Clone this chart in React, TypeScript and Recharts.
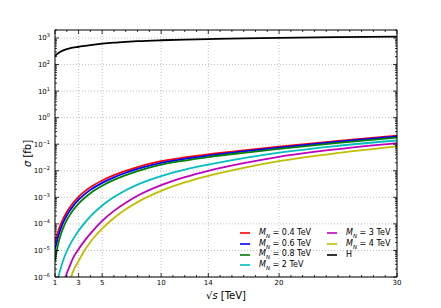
import { LineChart, Line, XAxis, YAxis, CartesianGrid, Legend, Label } from "recharts"

// sqrt(s) in TeV
const sqrtS = [1, 1.25, 1.5, 1.75, 2, 2.25, 2.5, 3, 3.5, 4, 5, 6, 7, 8, 10, 12, 14, 17, 20, 25, 30]

// sigma in fb (curves below 1e-6 run out of the frame)
const sigmaN04 = [1.95e-5, 4.9e-5, 1.0e-4, 1.76e-4, 2.82e-4, 4.17e-4, 5.89e-4, 1.05e-3, 1.64e-3, 2.4e-3, 4.32e-3, 6.84e-3, 1.0e-2, 1.38e-2, 2.29e-2, 3.16e-2, 4.17e-2, 5.89e-2, 8.13e-2, 0.133, 0.209]
const sigmaN06 = [1.1e-5, 3.16e-5, 6.92e-5, 1.26e-4, 2.07e-4, 3.11e-4, 4.47e-4, 8.13e-4, 1.29e-3, 1.91e-3, 3.51e-3, 5.66e-3, 8.41e-3, 1.18e-2, 2.0e-2, 2.81e-2, 3.74e-2, 5.35e-2, 7.46e-2, 0.124, 0.195]
const sigmaN08 = [3.98e-6, 1.62e-5, 4.07e-5, 8.04e-5, 1.38e-4, 2.14e-4, 3.13e-4, 5.82e-4, 9.44e-4, 1.43e-3, 2.72e-3, 4.52e-3, 6.84e-3, 9.77e-3, 1.7e-2, 2.43e-2, 3.27e-2, 4.75e-2, 6.71e-2, 0.113, 0.178]
const sigmaN2 = [5.01e-8, 7.41e-7, 2.21e-6, 4.95e-6, 9.33e-6, 1.58e-5, 2.51e-5, 5.5e-5, 1.07e-4, 1.91e-4, 4.9e-4, 1.02e-3, 1.86e-3, 3.02e-3, 6.31e-3, 1.1e-2, 1.7e-2, 2.99e-2, 4.79e-2, 8.71e-2, 0.138]
const sigmaN3 = [1e-10, 6.31e-9, 1e-7, 5.5e-7, 1.38e-6, 2.57e-6, 4.79e-6, 1.12e-5, 2.29e-5, 4.27e-5, 1.29e-4, 3.09e-4, 6.31e-4, 1.15e-3, 2.88e-3, 5.75e-3, 1.0e-2, 1.93e-2, 3.35e-2, 6.53e-2, 0.11]
const sigmaN4 = [1e-14, 1e-12, 1e-10, 1e-8, 1.58e-7, 6.31e-7, 1.51e-6, 3.98e-6, 1.0e-5, 2.09e-5, 6.61e-5, 1.66e-4, 3.55e-4, 6.61e-4, 1.74e-3, 3.63e-3, 6.46e-3, 1.29e-2, 2.29e-2, 4.68e-2, 8.32e-2]
const sigmaH = [209, 263, 309, 347, 380, 407, 432, 468, 507, 543, 610, 668, 716, 759, 822, 871, 912, 966, 1012, 1072, 1122]

const massLabels = ["0.4", "0.6", "0.8", "2", "3", "4"]

const xMajor = [1, 3, 5, 10, 14, 20, 30]
const xMinor = Array.from({ length: 30 }, (_, i) => i + 1)
const yExp = [-6, -5, -4, -3, -2, -1, 0, 1, 2, 3]

const seriesKeys = ["n04", "n06", "n08", "n2", "n3", "n4", "h"]
const seriesValues = [sigmaN04, sigmaN06, sigmaN08, sigmaN2, sigmaN3, sigmaN4, sigmaH]
const seriesColors = ["#ff0000", "#0000ff", "#008000", "#00bfbf", "#bf00bf", "#bfbf00", "#000000"]

const data = sqrtS.map((x, i) => {
  const row: any = { x }
  seriesKeys.forEach((k, j) => (row[k] = seriesValues[j][i]))
  return row
})

const yMajor = yExp.map((e) => Math.pow(10, e))
const yTicks: number[] = []
yExp.forEach((e) => {
  for (let m = 1; m <= 9; m++) {
    const v = m * Math.pow(10, e)
    if (v <= 2000) yTicks.push(v)
  }
})

const isDecade = (v: number) => Math.abs(Math.log10(v) - Math.round(Math.log10(v))) < 1e-6

function YTick({ x, y, payload, side }: any) {
  const v = payload.value
  const major = isDecade(v)
  const len = major ? 4 : 2
  const dir = side === "left" ? 1 : -1
  const e = Math.round(Math.log10(v))
  return (
    <g>
      <line x1={x} x2={x + dir * len} y1={y} y2={y} stroke="#000" strokeWidth={0.8} />
      {major && side === "left" && (
        <text x={x - 5} y={y + 2.5} textAnchor="end" fontSize={7} fill="#000">
          10
          <tspan dy={-3} fontSize={5}>
            {e < 0 ? "\u2212" + Math.abs(e) : e}
          </tspan>
        </text>
      )}
    </g>
  )
}

function XTick({ x, y, payload, side }: any) {
  const v = payload.value
  const major = xMajor.includes(v)
  const len = major ? 4 : 2
  const dir = side === "bottom" ? -1 : 1
  return (
    <g>
      <line x1={x} x2={x} y1={y} y2={y + dir * len} stroke="#000" strokeWidth={0.8} />
      {major && side === "bottom" && (
        <text x={x} y={y + 8} textAnchor="middle" fontSize={7} fill="#000">
          {v}
        </text>
      )}
    </g>
  )
}

function LegendBox() {
  const items = seriesKeys.map((k, i) => ({
    key: k,
    color: seriesColors[i],
    mass: massLabels[i],
  }))
  return (
    <div style={{ position: "relative", width: 170, height: 44, fontSize: 8, fontFamily: "DejaVu Sans" }}>
      {items.map((it, i) => {
        const col = i < 4 ? 0 : 1
        const row = i < 4 ? i : i - 4
        return (
          <div
            key={it.key}
            style={{
              position: "absolute",
              left: col * 87,
              top: row * 10.7,
              height: 10.7,
              display: "flex",
              alignItems: "center",
              whiteSpace: "nowrap",
            }}
          >
            <span style={{ display: "inline-block", width: 10, height: 2, background: it.color, opacity: 0.8, marginRight: 9 }} />
            {it.mass ? (
              <span>
                <i>M</i>
                <sub style={{ fontSize: 5.5 }}>
                  <i>N</i>
                </sub>{" "}
                = {it.mass} TeV
              </span>
            ) : (
              <span>H</span>
            )}
          </div>
        )
      })}
    </div>
  )
}

export default function App() {
  return (
    <div style={{ position: "absolute", left: 0, top: 0, width: 441, height: 308, background: "#fff", fontFamily: "DejaVu Sans" }}>
      <LineChart width={441} height={308} data={data} margin={{ top: 0, right: 0, bottom: 0, left: 0 }}>
        <CartesianGrid
          horizontalValues={yMajor}
          verticalValues={xMajor}
          stroke="#b0b0b0"
          strokeDasharray="1 2"
          strokeWidth={0.8}
        />
        <XAxis
          dataKey="x"
          type="number"
          domain={[1, 30]}
          allowDataOverflow
          ticks={xMinor}
          interval={0}
          height={31}
          tickSize={0}
          tickMargin={0}
          axisLine={{ stroke: "#000", strokeWidth: 1 }}
          tick={<XTick side="bottom" />}
        >
          <Label
            content={({ viewBox }: any) => (
              <text x={viewBox.x + viewBox.width / 2} y={viewBox.y + 22} textAnchor="middle" fontSize={10} fill="#000">
                {"\u221A"}
                <tspan fontStyle="italic">s</tspan> [TeV]
              </text>
            )}
          />
        </XAxis>
        <XAxis
          xAxisId="top"
          orientation="top"
          dataKey="x"
          type="number"
          domain={[1, 30]}
          allowDataOverflow
          ticks={xMinor}
          interval={0}
          height={30}
          tickSize={0}
          tickMargin={0}
          axisLine={{ stroke: "#000", strokeWidth: 1 }}
          tick={<XTick side="top" />}
        />
        <YAxis
          type="number"
          scale="log"
          domain={[1e-6, 2000]}
          allowDataOverflow
          ticks={yTicks}
          interval={0}
          width={55}
          tickSize={0}
          tickMargin={0}
          axisLine={{ stroke: "#000", strokeWidth: 1 }}
          tick={<YTick side="left" />}
        >
          <Label
            content={({ viewBox }: any) => {
              const cx = viewBox.x + 31
              const cy = viewBox.y + viewBox.height / 2
              return (
                <text x={cx} y={cy} textAnchor="middle" fontSize={10} fill="#000" transform={`rotate(-90 ${cx} ${cy})`}>
                  <tspan fontStyle="italic">{"\u03C3"}</tspan> [fb]
                </text>
              )
            }}
          />
        </YAxis>
        <YAxis
          yAxisId="right"
          orientation="right"
          type="number"
          scale="log"
          domain={[1e-6, 2000]}
          allowDataOverflow
          ticks={yTicks}
          interval={0}
          width={44}
          tickSize={0}
          tickMargin={0}
          axisLine={{ stroke: "#000", strokeWidth: 1 }}
          tick={<YTick side="right" />}
        />
        {seriesKeys.map((k, i) => (
          <Line
            key={k}
            dataKey={k}
            type="monotone"
            stroke={seriesColors[i]}
            strokeWidth={1.8}
            dot={false}
            isAnimationActive={false}
          />
        ))}
        <Legend
          layout="vertical"
          align="center"
          verticalAlign="middle"
          content={() => <LegendBox />}
          wrapperStyle={{ left: 240, top: 228, width: 170 }}
        />
      </LineChart>
    </div>
  )
}
